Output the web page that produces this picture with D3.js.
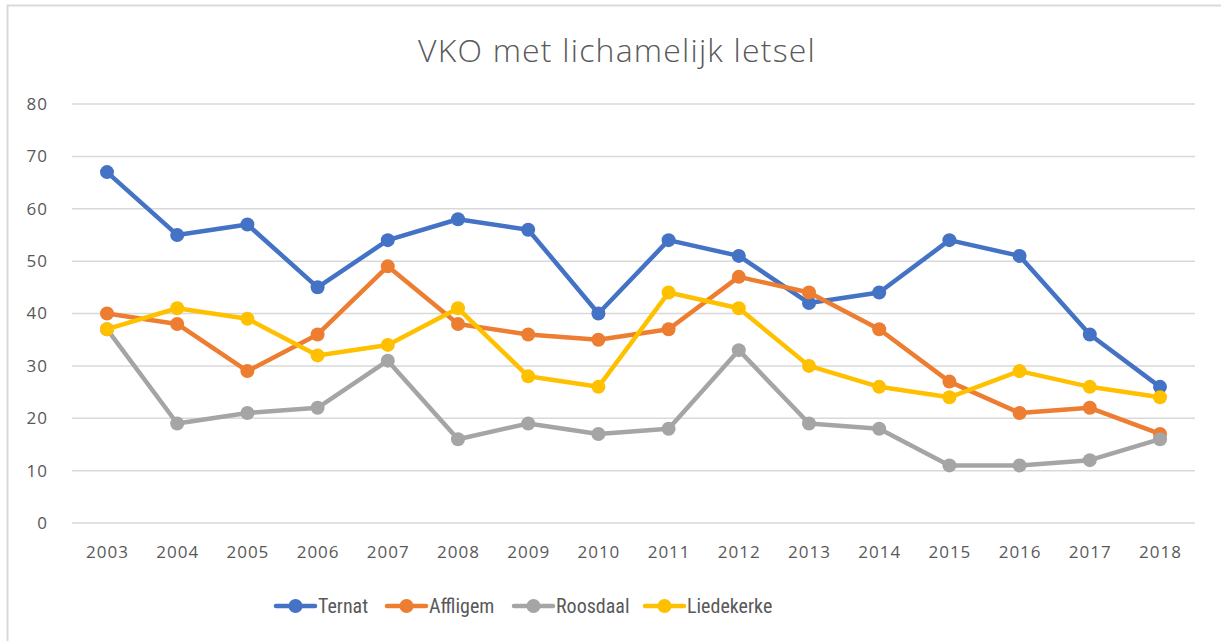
<!DOCTYPE html>
<html>
<head>
<meta charset="utf-8">
<script src="https://cdn.jsdelivr.net/npm/d3@7.9.0/dist/d3.min.js"></script>
<style>
  body { margin: 0; background: #fff; }
  svg { display: block; }
</style>
</head>
<body>
<svg id="chart" width="1221" height="641"></svg>
<script>
// Data
const years = ['2003','2004','2005','2006','2007','2008','2009','2010','2011','2012','2013','2014','2015','2016','2017','2018'];
const ternat     = [67,55,57,45,54,58,56,40,54,51,42,44,54,51,36,26];
const affligem   = [40,38,29,36,49,38,36,35,37,47,44,37,27,21,22,17];
const roosdaal   = [37,19,21,22,31,16,19,17,18,33,19,18,11,11,12,16];
const liedekerke = [37,41,39,32,34,41,28,26,44,41,30,26,24,29,26,24];
const seriesNames = ['Ternat','Affligem','Roosdaal','Liedekerke'];
const yTicks = [0,10,20,30,40,50,60,70,80];

const series = [
  { name: seriesNames[0], values: ternat,     color: '#4472C4' },
  { name: seriesNames[1], values: affligem,   color: '#ED7D31' },
  { name: seriesNames[2], values: roosdaal,   color: '#A5A5A5' },
  { name: seriesNames[3], values: liedekerke, color: '#FFC000' }
];

const svg = d3.select('#chart');
const textColor = '#595959';
const axisFont = '"Open Sans", sans-serif';

// chart frame
svg.append('rect')
  .attr('x', 7.5).attr('y', 5.5)
  .attr('width', 1230).attr('height', 660)
  .attr('fill', '#fff')
  .attr('stroke', '#d9d9d9')
  .attr('stroke-width', 2);

// title
svg.append('text')
  .attr('x', 617).attr('y', 62)
  .attr('text-anchor', 'middle')
  .attr('font-family', axisFont)
  .attr('font-weight', 300)
  .attr('font-size', 32)
  .attr('letter-spacing', 1.2)
  .attr('fill', textColor)
  .text('VKO met lichamelijk letsel');

// scales
const x = d3.scalePoint().domain(years).range([107, 1160]).padding(0);
const y = d3.scaleLinear().domain([0, 80]).range([523, 104]);

// gridlines
svg.append('g')
  .selectAll('line')
  .data(yTicks)
  .join('line')
  .attr('x1', 72).attr('x2', 1195)
  .attr('y1', d => y(d)).attr('y2', d => y(d))
  .attr('stroke', '#d9d9d9')
  .attr('stroke-width', 1.5);

// y axis labels
const yAxis = svg.append('g')
  .attr('transform', 'translate(48,0)')
  .call(d3.axisLeft(y).tickValues(yTicks).tickSize(0).tickPadding(0));
yAxis.select('.domain').remove();
yAxis.selectAll('text')
  .attr('font-family', axisFont)
  .attr('font-size', 17)
  .attr('letter-spacing', 1)
  .attr('fill', textColor);

// x axis labels
const xAxis = svg.append('g')
  .attr('transform', 'translate(0,546)')
  .call(d3.axisBottom(x).tickSize(0).tickPadding(0));
xAxis.select('.domain').remove();
xAxis.selectAll('text')
  .attr('font-family', axisFont)
  .attr('font-size', 17)
  .attr('letter-spacing', 1)
  .attr('fill', textColor);

// lines + markers
const line = d3.line()
  .x((d, i) => x(years[i]))
  .y(d => y(d));

series.forEach(s => {
  const g = svg.append('g');
  g.append('path')
    .attr('d', line(s.values))
    .attr('fill', 'none')
    .attr('stroke', s.color)
    .attr('stroke-width', 4.5)
    .attr('stroke-linejoin', 'round')
    .attr('stroke-linecap', 'round');
  g.selectAll('circle')
    .data(s.values)
    .join('circle')
    .attr('cx', (d, i) => x(years[i]))
    .attr('cy', d => y(d))
    .attr('r', 7)
    .attr('fill', s.color);
});

// legend
const legendX = [276, 387, 514, 645];
const legend = svg.append('g');
series.forEach((s, i) => {
  const g = legend.append('g').attr('transform', `translate(${legendX[i]},606)`);
  g.append('line')
    .attr('x1', 0).attr('x2', 39)
    .attr('stroke', s.color)
    .attr('stroke-width', 4.5)
    .attr('stroke-linecap', 'round');
  g.append('circle').attr('cx', 19.5).attr('r', 7).attr('fill', s.color);
  g.append('text')
    .attr('x', 42).attr('y', 7)
    .attr('font-family', '"Liberation Sans Narrow", "Roboto Condensed", sans-serif')
    .attr('font-size', 20)
    .attr('fill', textColor)
    .text(s.name);
});
</script>
</body>
</html>
